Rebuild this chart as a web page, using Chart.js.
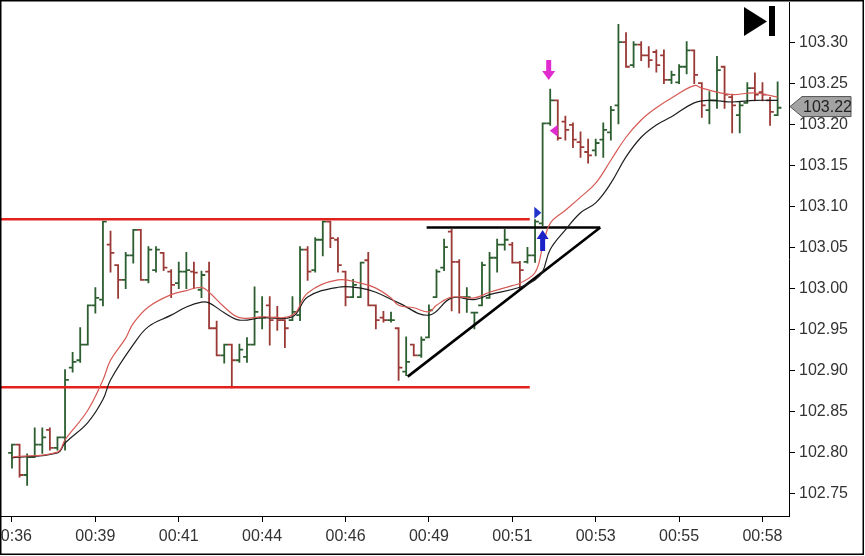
<!DOCTYPE html>
<html>
<head>
<meta charset="utf-8">
<script src="https://cdn.jsdelivr.net/npm/chart.js@4.4.0/dist/chart.umd.min.js"></script>
<style>
    html, body { margin: 0; padding: 0; background: #fff; }
    #wrap { position: relative; width: 865px; height: 556px; overflow: hidden; }
    #c { position: absolute; left: -30px; top: 0; }
</style>
</head>
<body>
<div id="wrap"><canvas id="c" width="895" height="556"></canvas></div>
<script>
// x axis labels sit on every 11th bar
const timeLabels = ['00:36', '00:39', '00:41', '00:44', '00:46', '00:49', '00:51', '00:53', '00:55', '00:58'];
const labelBars = [0, 11, 22, 33, 44, 55, 66, 77, 88, 99];
const yTicks = [102.75, 102.80, 102.85, 102.90, 102.95, 103.00, 103.05, 103.10, 103.15, 103.20, 103.25, 103.30];

// OHLC bars, one per index
const opens = [102.800, 102.810, 102.773, 102.795, 102.810, 102.828, 102.806, 102.819, 102.904, 102.913,
    102.932, 102.980, 102.987, 103.054, 103.029, 103.011, 103.041, 103.072, 103.011, 103.023,
    103.044, 103.021, 103.007, 103.021, 103.021, 102.999, 103.021, 102.952, 102.919, 102.932,
    102.913, 102.917, 102.932, 102.965, 102.980, 102.965, 102.962, 102.962, 102.968, 103.048,
    103.023, 103.060, 103.082, 103.060, 103.021, 102.990, 102.990, 103.035, 102.980, 102.965,
    102.962, 102.952, 102.899, 102.932, 102.919, 102.941, 102.990, 103.026, 103.070, 103.033,
    102.990, 102.971, 102.980, 102.989, 103.038, 103.054, 103.054, 103.032, 103.033, 103.041,
    103.080, 103.202, 103.230, 103.204, 103.200, 103.179, 103.167, 103.169, 103.182, 103.191,
    103.224, 103.301, 103.273, 103.298, 103.285, 103.289, 103.285, 103.255, 103.252, 103.271,
    103.291, 103.251, 103.218, 103.230, 103.271, 103.234, 103.212, 103.227, 103.245, 103.240,
    103.230, 103.212];
const highs = [102.810, 102.810, 102.798, 102.830, 102.830, 102.830, 102.819, 102.901, 102.922, 102.952,
    102.980, 103.001, 103.082, 103.070, 103.029, 103.044, 103.072, 103.072, 103.051, 103.051,
    103.044, 103.023, 103.032, 103.044, 103.032, 103.021, 103.032, 102.960, 102.932, 102.932,
    102.932, 102.940, 103.002, 102.990, 102.990, 102.978, 102.962, 102.990, 103.051, 103.051,
    103.062, 103.082, 103.082, 103.062, 103.021, 103.011, 103.032, 103.044, 102.980, 102.972,
    102.971, 102.952, 102.941, 102.932, 102.941, 102.980, 103.023, 103.060, 103.072, 103.035,
    103.001, 102.971, 103.032, 103.044, 103.060, 103.072, 103.056, 103.033, 103.050, 103.084,
    103.202, 103.243, 103.230, 103.210, 103.202, 103.191, 103.182, 103.182, 103.202, 103.222,
    103.322, 103.312, 103.301, 103.301, 103.295, 103.291, 103.291, 103.265, 103.273, 103.301,
    103.291, 103.251, 103.240, 103.283, 103.271, 103.237, 103.227, 103.251, 103.263, 103.251,
    103.233, 103.252];
const lows = [102.782, 102.771, 102.761, 102.795, 102.800, 102.804, 102.804, 102.804, 102.899, 102.911,
    102.932, 102.971, 102.980, 103.021, 102.989, 103.001, 103.032, 103.011, 103.008, 103.021,
    103.023, 102.990, 103.001, 103.001, 103.001, 102.990, 102.952, 102.919, 102.910, 102.880,
    102.911, 102.911, 102.932, 102.952, 102.932, 102.950, 102.929, 102.962, 102.962, 103.011,
    103.021, 103.041, 103.051, 103.021, 102.980, 102.990, 102.990, 102.980, 102.952, 102.960,
    102.960, 102.889, 102.895, 102.919, 102.917, 102.941, 102.990, 103.023, 102.974, 102.971,
    102.972, 102.952, 102.980, 102.989, 103.021, 103.048, 103.032, 103.001, 103.032, 103.033,
    103.078, 103.200, 103.182, 103.182, 103.173, 103.161, 103.154, 103.163, 103.161, 103.182,
    103.202, 103.271, 103.271, 103.279, 103.271, 103.265, 103.251, 103.251, 103.251, 103.263,
    103.251, 103.210, 103.202, 103.221, 103.221, 103.191, 103.191, 103.227, 103.230, 103.230,
    103.200, 103.212];
const closes = [102.810, 102.773, 102.795, 102.810, 102.819, 102.806, 102.819, 102.889, 102.911, 102.932,
    102.980, 102.989, 103.082, 103.044, 103.011, 103.041, 103.072, 103.011, 103.048, 103.048,
    103.026, 103.005, 103.021, 103.023, 103.020, 103.017, 102.952, 102.919, 102.932, 102.913,
    102.926, 102.932, 102.972, 102.965, 102.962, 102.962, 102.952, 102.972, 103.048, 103.021,
    103.060, 103.082, 103.062, 103.029, 102.990, 103.005, 103.032, 102.980, 102.962, 102.962,
    102.962, 102.904, 102.911, 102.919, 102.938, 102.974, 103.021, 103.051, 103.033, 102.990,
    102.990, 102.971, 103.029, 103.038, 103.054, 103.060, 103.032, 103.023, 103.041, 103.082,
    103.202, 103.230, 103.184, 103.194, 103.182, 103.173, 103.163, 103.178, 103.194, 103.218,
    103.301, 103.271, 103.298, 103.285, 103.279, 103.273, 103.255, 103.261, 103.271, 103.291,
    103.261, 103.224, 103.230, 103.267, 103.237, 103.224, 103.224, 103.245, 103.237, 103.237,
    103.216, 103.221];

// moving averages (bar index, price)
const redMaBars = [0, 6, 7, 10, 12, 13, 15, 16, 18, 21, 23, 25, 26, 28, 30, 33, 37, 39, 43, 46, 48, 50, 51, 53,
    55, 56, 58, 61, 63, 66, 67, 69, 70, 71, 73, 75, 77, 79, 81, 83, 85, 87, 90, 91, 93, 95, 98, 101];
const redMa = [102.795, 102.801, 102.816, 102.852, 102.889, 102.913, 102.940, 102.958, 102.978, 102.993, 102.998,
    103.002, 102.996, 102.978, 102.965, 102.966, 102.968, 102.995, 103.011, 103.007, 103.001, 102.989, 102.980,
    102.977, 102.972, 102.980, 102.990, 102.989, 102.996, 103.004, 103.007, 103.020, 103.051, 103.080, 103.096,
    103.112, 103.129, 103.157, 103.185, 103.206, 103.221, 103.233, 103.248, 103.245, 103.240, 103.237, 103.239, 103.234];
const blackMaBars = [0, 6, 7, 10, 12, 13, 16, 18, 21, 23, 25, 26, 28, 30, 33, 37, 39, 43, 46, 48, 51, 55, 58, 61,
    63, 67, 69, 70, 71, 73, 75, 77, 79, 81, 83, 85, 87, 90, 92, 95, 98, 101];
const blackMa = [102.794, 102.800, 102.812, 102.837, 102.865, 102.889, 102.932, 102.954, 102.968, 102.978, 102.984,
    102.983, 102.971, 102.962, 102.965, 102.966, 102.990, 103.002, 103.001, 102.996, 102.983, 102.968, 102.989,
    102.987, 102.993, 103.002, 103.011, 103.021, 103.048, 103.072, 103.093, 103.105, 103.129, 103.161, 103.185,
    103.200, 103.210, 103.227, 103.230, 103.228, 103.230, 103.230];

// drawn lines
const rangeBars = [-1.6, 68.3];
const resistance = [103.085, 103.085];
const support = [102.880, 102.880];
const triTopBars = [54.7, 77.6];
const triTop = [103.075, 103.075];
const triBaseBars = [52.2, 77.6];
const triBase = [102.893, 103.075];
const lastPrice = 103.22;

const greenBar = '#2c5e30';
const redBar = '#9a3a37';

function pts(xs, ys) {
    return xs.map((x, k) => ({ x: x, y: ys[k] }));
}

const ohlcPlugin = {
    id: 'ohlc',
    beforeDatasetsDraw(chart) {
        const { ctx, chartArea: a, scales: { x, y } } = chart;
        const half = (x.getPixelForValue(1) - x.getPixelForValue(0)) / 2;
        ctx.save();
        ctx.beginPath();
        ctx.rect(a.left, a.top, a.right - a.left, a.bottom - a.top);
        ctx.clip();
        ctx.lineWidth = 1.8;
        for (let i = 0; i < opens.length; i++) {
            const px = x.getPixelForValue(i);
            const yo = y.getPixelForValue(opens[i]);
            const yc = y.getPixelForValue(closes[i]);
            ctx.strokeStyle = closes[i] >= opens[i] ? greenBar : redBar;
            ctx.beginPath();
            ctx.moveTo(px, y.getPixelForValue(highs[i]) - 0.9);
            ctx.lineTo(px, y.getPixelForValue(lows[i]) + 0.9);
            ctx.moveTo(px - half, yo);
            ctx.lineTo(px, yo);
            ctx.moveTo(px, yc);
            ctx.lineTo(px + half, yc);
            ctx.stroke();
        }
        ctx.restore();
    }
};

function poly(ctx, list, fill) {
    ctx.beginPath();
    ctx.moveTo(list[0][0], list[0][1]);
    for (let k = 1; k < list.length; k++) ctx.lineTo(list[k][0], list[k][1]);
    ctx.closePath();
    ctx.fillStyle = fill;
    ctx.fill();
}

const marksPlugin = {
    id: 'marks',
    afterDatasetsDraw(chart) {
        const { ctx, chartArea: a, scales: { x, y } } = chart;
        ctx.save();
        // magenta down arrow over the spike
        let px = x.getPixelForValue(70.8), py = y.getPixelForValue(103.255);
        poly(ctx, [[px - 2.5, py - 20], [px + 2.5, py - 20], [px + 2.5, py - 9], [px + 6.5, py - 9], [px, py], [px - 6.5, py - 9], [px - 2.5, py - 9]], '#e02ccf');
        // magenta left triangle
        px = x.getPixelForValue(71.6); py = y.getPixelForValue(103.193);
        poly(ctx, [[px - 5, py], [px + 3, py - 6], [px + 3, py + 6]], '#e02ccf');
        // blue right triangle
        px = x.getPixelForValue(69.3); py = y.getPixelForValue(103.093);
        poly(ctx, [[px + 4, py], [px - 3, py - 6], [px - 3, py + 6]], '#2233cc');
        // blue up arrow
        px = x.getPixelForValue(70.0); py = y.getPixelForValue(103.072);
        poly(ctx, [[px, py], [px + 6, py + 9], [px + 2.5, py + 9], [px + 2.5, py + 21], [px - 2.5, py + 21], [px - 2.5, py + 9], [px - 6, py + 9]], '#1d22c8');

        // last price tag on the axis
        const ty = y.getPixelForValue(lastPrice) - 2;
        const tx = a.right + 1;
        ctx.beginPath();
        ctx.moveTo(tx, ty);
        ctx.lineTo(tx + 12, ty - 10);
        ctx.lineTo(tx + 61, ty - 10);
        ctx.lineTo(tx + 61, ty + 10);
        ctx.lineTo(tx + 12, ty + 10);
        ctx.closePath();
        ctx.fillStyle = '#a3a3a3';
        ctx.fill();
        ctx.strokeStyle = '#555';
        ctx.lineWidth = 1;
        ctx.stroke();
        ctx.fillStyle = '#222';
        ctx.font = "16px 'Liberation Sans', Arial, sans-serif";
        ctx.textBaseline = 'middle';
        ctx.textAlign = 'left';
        ctx.fillText(lastPrice.toFixed(2), tx + 13, ty + 1);

        // "go to end" icon
        const ox = 30;
        poly(ctx, [[ox + 744, 7], [ox + 744, 36], [ox + 767, 21.5]], '#000');
        ctx.fillStyle = '#000';
        ctx.fillRect(ox + 769, 6, 6, 30);

        // outer frame
        ctx.strokeStyle = '#000';
        ctx.lineWidth = 1.5;
        ctx.strokeRect(ox + 0.75, 0.75, 862.5, 553.5);
        ctx.restore();
    }
};

Chart.defaults.font.family = "'Liberation Sans', Arial, sans-serif";

const ctx = document.getElementById('c').getContext('2d');
new Chart(ctx, {
    type: 'line',
    data: {
        datasets: [
            { data: pts(redMaBars, redMa), borderColor: '#d65a55', borderWidth: 1.2, tension: 0.4, pointRadius: 0 },
            { data: pts(blackMaBars, blackMa), borderColor: '#1e1e1e', borderWidth: 1.2, tension: 0.4, pointRadius: 0 },
            { data: pts(rangeBars, resistance), borderColor: '#e2211c', borderWidth: 2.6, pointRadius: 0 },
            { data: pts(rangeBars, support), borderColor: '#e2211c', borderWidth: 2.6, pointRadius: 0 },
            { data: pts(triTopBars, triTop), borderColor: '#000', borderWidth: 2.6, pointRadius: 0 },
            { data: pts(triBaseBars, triBase), borderColor: '#000', borderWidth: 2.6, pointRadius: 0 }
        ]
    },
    options: {
        responsive: false,
        animation: false,
        devicePixelRatio: 1,
        layout: { padding: { left: 30, top: 2, right: 0, bottom: 0 } },
        plugins: { legend: { display: false }, tooltip: { enabled: false } },
        scales: {
            x: {
                type: 'linear',
                min: -1.58,
                max: 102.5,
                grid: { display: true, drawOnChartArea: false, drawTicks: true, tickLength: 6, color: '#000' },
                border: { display: true, color: '#000', width: 1 },
                ticks: {
                    autoSkip: false,
                    maxRotation: 0,
                    padding: 5,
                    color: '#333',
                    font: { size: 16 },
                    callback: (v, i) => timeLabels[i]
                },
                afterBuildTicks: s => { s.ticks = labelBars.map(v => ({ value: v })); },
                afterFit: s => { s.height = 40; s.paddingLeft = 0; s.paddingRight = 0; }
            },
            y: {
                position: 'right',
                min: 102.723,
                max: 103.35,
                grid: { display: true, drawOnChartArea: false, drawTicks: true, tickLength: 6, color: '#000' },
                border: { display: true, color: '#000', width: 1 },
                ticks: {
                    padding: 4,
                    color: '#333',
                    font: { size: 16 },
                    callback: v => v.toFixed(2)
                },
                afterBuildTicks: s => { s.ticks = yTicks.map(v => ({ value: v })); },
                afterFit: s => { s.width = 76; s.paddingTop = 0; s.paddingBottom = 0; }
            }
        }
    },
    plugins: [ohlcPlugin, marksPlugin]
});
</script>
</body>
</html>
